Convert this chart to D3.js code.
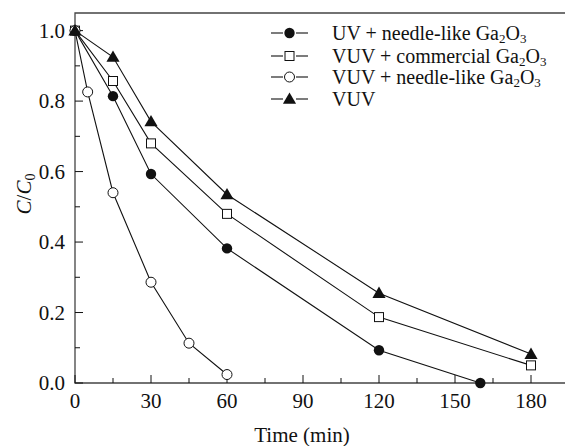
<!DOCTYPE html>
<html>
<head>
<meta charset="utf-8">
<script src="https://cdn.jsdelivr.net/npm/d3@7"></script>
<style>
  body { margin: 0; background: #fff; }
  text { font-family: 'Liberation Serif', 'DejaVu Serif', serif; }
</style>
</head>
<body>
<svg id="chart" width="565" height="446" font-family="Liberation Serif, DejaVu Serif, serif"></svg>
<script>
// series data
const seriesNames = [
  'UV + needle-like Ga2O3',
  'VUV + commercial Ga2O3',
  'VUV + needle-like Ga2O3',
  'VUV'
];
const uvNeedleT = [0, 15, 30, 60, 120, 160];
const uvNeedleC = [1.0, 0.814, 0.593, 0.382, 0.093, 0.0];
const vuvCommT = [0, 15, 30, 60, 120, 180];
const vuvCommC = [1.0, 0.857, 0.68, 0.48, 0.187, 0.05];
const vuvNeedleT = [0, 5, 15, 30, 45, 60];
const vuvNeedleC = [1.0, 0.826, 0.54, 0.286, 0.113, 0.024];
const vuvT = [0, 15, 30, 60, 120, 180];
const vuvC = [1.0, 0.925, 0.742, 0.535, 0.255, 0.082];
const markers = ['filledCircle', 'openSquare', 'openCircle', 'filledTriangle'];

const xTicks = [0, 30, 60, 90, 120, 150, 180];
const yTicks = [0.0, 0.2, 0.4, 0.6, 0.8, 1.0];

const margin = { left: 75, top: 13, bottom: 383 };
const svg = d3.select('#chart');
const ink = '#111';
const fs = 21;

// x runs past the right edge of the picture (figure is cropped)
const x = d3.scaleLinear().domain([0, 195]).range([margin.left, margin.left + 195 * (456 / 180)]);
const y = d3.scaleLinear().domain([0, 1.05]).range([margin.bottom, margin.top]);

// frame: left, top, bottom
svg.append('path')
  .attr('d', `M${x(195)},${y(1.05)}H${x(0)}V${y(0)}H${x(195)}`)
  .attr('fill', 'none').attr('stroke', '#444').attr('stroke-width', 1.3);

// x ticks (inward)
const xAxis = svg.append('g');
d3.range(0, 195, 15).forEach(v => {
  const major = v % 30 === 0;
  xAxis.append('line')
    .attr('x1', x(v)).attr('x2', x(v))
    .attr('y1', y(0)).attr('y2', y(0) - (major ? 8 : 5))
    .attr('stroke', ink).attr('stroke-width', 1);
});
xAxis.selectAll('text').data(xTicks).enter().append('text')
  .attr('x', d => x(d)).attr('y', 408)
  .attr('text-anchor', 'middle').attr('font-size', fs).attr('fill', ink)
  .text(d => d);

// y ticks (inward)
const yAxis = svg.append('g');
d3.range(0, 11).forEach(i => {
  const v = i / 10;
  const major = i % 2 === 0;
  yAxis.append('line')
    .attr('x1', x(0)).attr('x2', x(0) + (major ? 8 : 5))
    .attr('y1', y(v)).attr('y2', y(v))
    .attr('stroke', ink).attr('stroke-width', 1);
});
yAxis.selectAll('text').data(yTicks).enter().append('text')
  .attr('x', 65).attr('y', d => y(d) + 7)
  .attr('text-anchor', 'end').attr('font-size', fs).attr('fill', ink)
  .text(d => d3.format('.1f')(d));

// axis titles
svg.append('text')
  .attr('x', 302).attr('y', 442)
  .attr('text-anchor', 'middle').attr('font-size', fs).attr('fill', ink)
  .text('Time (min)');

const yTitle = svg.append('text')
  .attr('transform', 'translate(31,194) rotate(-90)')
  .attr('text-anchor', 'middle').attr('font-size', fs).attr('fill', ink);
yTitle.append('tspan').attr('font-style', 'italic').text('C');
yTitle.append('tspan').text('/');
yTitle.append('tspan').attr('font-style', 'italic').text('C');
yTitle.append('tspan').attr('font-size', 14).attr('dy', 4).text('0');

// marker drawing
function drawMarker(g, type, cx, cy) {
  if (type === 'filledCircle') {
    g.append('circle').attr('cx', cx).attr('cy', cy).attr('r', 5.2).attr('fill', ink);
  } else if (type === 'openCircle') {
    g.append('circle').attr('cx', cx).attr('cy', cy).attr('r', 5)
      .attr('fill', '#fff').attr('stroke', ink).attr('stroke-width', 1);
  } else if (type === 'openSquare') {
    g.append('rect').attr('x', cx - 4.5).attr('y', cy - 4.5).attr('width', 9).attr('height', 9)
      .attr('fill', '#fff').attr('stroke', ink).attr('stroke-width', 1);
  } else {
    g.append('path')
      .attr('d', d3.symbol(d3.symbolTriangle, 75)())
      .attr('transform', `translate(${cx},${cy + 1})`)
      .attr('fill', ink);
  }
}

const allSeries = [
  [uvNeedleT, uvNeedleC],
  [vuvCommT, vuvCommC],
  [vuvNeedleT, vuvNeedleC],
  [vuvT, vuvC]
];

const line = d3.line().x(d => x(d[0])).y(d => y(d[1]));
allSeries.forEach(([ts, cs], i) => {
  const pts = ts.map((t, j) => [t, cs[j]]);
  svg.append('path').datum(pts)
    .attr('d', line).attr('fill', 'none')
    .attr('stroke', ink).attr('stroke-width', 1.1);
});
allSeries.forEach(([ts, cs], i) => {
  const g = svg.append('g');
  ts.forEach((t, j) => drawMarker(g, markers[i], x(t), y(cs[j])));
});

// legend
const legend = svg.append('g');
const rowY = [33, 56, 77, 99];
seriesNames.forEach((name, i) => {
  const ly = rowY[i];
  legend.append('line').attr('x1', 271).attr('x2', 283).attr('y1', ly).attr('y2', ly)
    .attr('stroke', ink).attr('stroke-width', 1.1);
  legend.append('line').attr('x1', 296).attr('x2', 308).attr('y1', ly).attr('y2', ly)
    .attr('stroke', ink).attr('stroke-width', 1.1);
  drawMarker(legend, markers[i], 289.5, ly);
  const t = legend.append('text').attr('x', 332).attr('y', ly + 6.5)
    .attr('font-size', 20).attr('fill', ink);
  const m = name.match(/^(.*)Ga2O3$/);
  if (m) {
    t.append('tspan').text(m[1] + 'Ga');
    t.append('tspan').attr('font-size', 13).attr('dy', 3).text('2');
    t.append('tspan').attr('dy', -3).text('O');
    t.append('tspan').attr('font-size', 13).attr('dy', 3).text('3');
  } else {
    t.text(name);
  }
});
</script>
</body>
</html>
